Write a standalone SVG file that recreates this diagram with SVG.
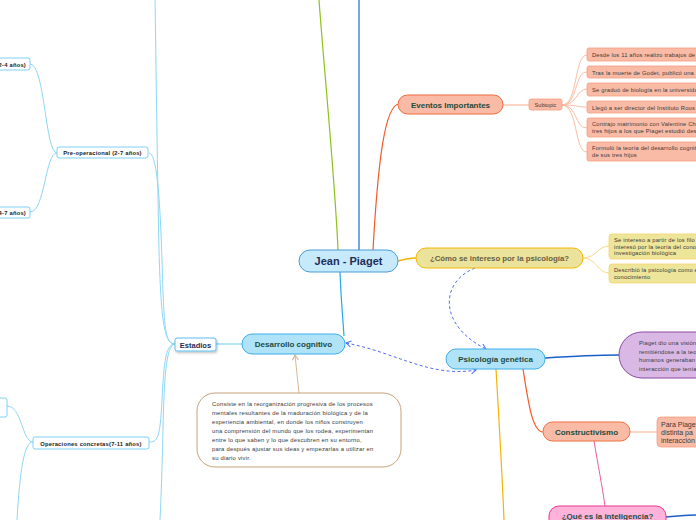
<svg xmlns="http://www.w3.org/2000/svg" width="696" height="520" viewBox="0 0 696 520">
<defs>
<marker id="arrBlue" markerWidth="8" markerHeight="8" refX="6" refY="4" orient="auto" markerUnits="userSpaceOnUse">
<path d="M1,1 L6,4 L1,7" fill="none" stroke="#4f6ff0" stroke-width="1"/>
</marker>
<marker id="arrBlueStart" markerWidth="8" markerHeight="8" refX="2" refY="4" orient="auto" markerUnits="userSpaceOnUse">
<path d="M7,1 L2,4 L7,7" fill="none" stroke="#4f6ff0" stroke-width="1"/>
</marker>
<marker id="arrTan" markerWidth="8" markerHeight="8" refX="6" refY="4" orient="auto" markerUnits="userSpaceOnUse">
<path d="M1,1 L6,4 L1,7" fill="none" stroke="#d2b08c" stroke-width="1"/>
</marker>
<filter id="sh" x="-20%" y="-30%" width="140%" height="170%">
<feDropShadow dx="1" dy="1.5" stdDeviation="1" flood-color="#000" flood-opacity="0.25"/>
</filter>
</defs>
<style>
text{font-family:"Liberation Sans",Arial,sans-serif}
.b{font-weight:bold}
.lb{fill:none;stroke:#8ed6f5;stroke-width:1}
.sal{fill:none;stroke:#fbbca4;stroke-width:1}
.gold{fill:none;stroke:#f9d98a;stroke-width:1}
.sm{font-size:5.8px;fill:#3a3a3a;letter-spacing:0.18px}
.sb{font-size:5.8px;font-weight:bold;fill:#222;letter-spacing:0.22px}
.note{font-size:5.9px;fill:#3a3a3a;letter-spacing:0.2px}
.green{fill:#1e4a3c}
.navy{fill:#1d2d5a}
.wb{fill:#fff;stroke:#7fd0f4;stroke-width:1}
.salbox{fill:#f9bba6;stroke:#f4a080;stroke-width:0.8}
.goldbox{fill:#ede59a;stroke:#f7d46a;stroke-width:0.8}
</style>
<rect width="696" height="520" fill="#fff"/>
<g id="connectors">
<path d="M338,250 C335,180 325,80 319,0" fill="none" stroke="#8cc21a" stroke-width="1.2"/>
<path d="M359,250 L359,0" fill="none" stroke="#1f66d0" stroke-width="1.2"/>
<path d="M373,250 C378,160 385,105 399,104" fill="none" stroke="#f25a28" stroke-width="1.2"/>
<path d="M398,261 C405,259 410,258 416,258" fill="none" stroke="#f5b400" stroke-width="1.5"/>
<path d="M340,272 C341,300 343,320 344,336" fill="none" stroke="#22a8ee" stroke-width="1.2"/>
<path d="M503,105 L529,105" fill="none" stroke="#fbc4b0" stroke-width="1.5"/>
<path d="M562,105 C578,105 574,55 587,55" class="sal"/>
<path d="M562,105 C578,105 574,72 587,72" class="sal"/>
<path d="M562,105 C578,105 576,89 587,89" class="sal"/>
<path d="M562,105 C578,105 576,107 587,107" class="sal"/>
<path d="M562,105 C578,105 574,128 587,128" class="sal"/>
<path d="M562,105 C578,105 574,152 587,152" class="sal"/>
<path d="M583,258 C596,258 598,246 609,246" class="gold"/>
<path d="M583,258 C596,258 598,273 609,273" class="gold"/>
<path d="M475,268 C440,282 438,325 486,349" fill="none" stroke="#4f6ff0" stroke-width="1" stroke-dasharray="3,2.5" marker-end="url(#arrBlue)"/>
<path d="M346,343 C395,352 430,378 476,370" fill="none" stroke="#4f6ff0" stroke-width="1" stroke-dasharray="3,2.5" marker-start="url(#arrBlueStart)" marker-end="url(#arrBlue)"/>
<path d="M242,344 L216,344" fill="none" stroke="#9dd8f0" stroke-width="1.5"/>
<path d="M299,393 C298,380 296,368 295,355" fill="none" stroke="#d9b896" stroke-width="1" marker-end="url(#arrTan)"/>
<path d="M545,358 C575,356 590,355 619,355" fill="none" stroke="#1a60c8" stroke-width="1.5"/>
<path d="M523,369 C528,400 532,432 543,432" fill="none" stroke="#f25a28" stroke-width="1.2"/>
<path d="M630,432 L657,432" fill="none" stroke="#fbc8b4" stroke-width="1.5"/>
<path d="M594,441 C598,465 602,485 605,506" fill="none" stroke="#ea5c9c" stroke-width="1"/>
<path d="M666,517 C680,516 688,515 696,515" fill="none" stroke="#1a60c8" stroke-width="1.5"/>
<path d="M496,369 C499,420 502,470 504,520" fill="none" stroke="#f5b400" stroke-width="1.2"/>
<path d="M175,344 C164,344 161,320 159,250 C157,150 156,60 155,0" class="lb"/>
<path d="M149,153 C157,153 160,200 162,260 C164,330 165,344 175,344" class="lb"/>
<path d="M175,344 C166,344 164,360 162,400 C160,440 157,442 149,442" class="lb"/>
<path d="M175,344 C166,344 164,380 163,430 C162,470 161,500 160,520" class="lb"/>
<path d="M57,153 C45,153 45,64 30,64" class="lb"/>
<path d="M57,153 C45,153 45,212 30,212" class="lb"/>
<path d="M33,442 C22,442 22,406 7,406" class="lb"/>
<path d="M33,442 C24,442 20,470 17,520" class="lb"/>
</g>
<g id="jean">
<rect x="299" y="250" width="99" height="22" rx="11" fill="#c6eafb" stroke="#4a9bd8" stroke-width="1"/>
<text x="348.5" y="265" text-anchor="middle" class="b navy" font-size="11">Jean - Piaget</text>
</g>
<g id="eventos">
<rect x="398" y="95" width="105" height="19" rx="9.5" fill="#f9bba6" stroke="#f06a3c" stroke-width="1"/>
<text x="450.5" y="108" text-anchor="middle" class="b green" font-size="8">Eventos Importantes</text>
</g>
<g id="subtopic">
<rect x="529" y="99" width="33" height="11" rx="2" class="salbox"/>
<text x="545.5" y="107" text-anchor="middle" font-size="5.6" fill="#4a3a34">Subtopic</text>
</g>
<g id="ev1"><rect x="587" y="48" width="120" height="13" rx="2" class="salbox"/><text x="592" y="57" class="sm">Desde los 11 años realizo trabajos de</text></g>
<g id="ev2"><rect x="587" y="66" width="120" height="12" rx="2" class="salbox"/><text x="592" y="74.5" class="sm">Tras la muerte de Godet, publicó una</text></g>
<g id="ev3"><rect x="587" y="83" width="120" height="13" rx="2" class="salbox"/><text x="592" y="91.5" class="sm">Se graduó de biología en la universida</text></g>
<g id="ev4"><rect x="587" y="101" width="120" height="12" rx="2" class="salbox"/><text x="592" y="109.5" class="sm">Llegó a ser director del Instituto Rous</text></g>
<g id="ev5"><rect x="587" y="118" width="120" height="19" rx="2" class="salbox"/><text x="592" y="126" class="sm">Contrajo matrimonio con Valentine Ch</text><text x="592" y="132.5" class="sm">tres hijos a los que Piaget estudió des</text></g>
<g id="ev6"><rect x="587" y="142" width="120" height="19" rx="2" class="salbox"/><text x="592" y="150" class="sm">Formuló la teoría del desarrollo cognit</text><text x="592" y="156.5" class="sm">de sus tres hijos</text></g>
<g id="como">
<rect x="416" y="248" width="167" height="20" rx="10" fill="#ebe39b" stroke="#f5b800" stroke-width="1"/>
<text x="499.5" y="261" text-anchor="middle" class="b" font-size="7.8" fill="#676042">¿Cómo se intereso por la psicología?</text>
</g>
<g id="como1"><rect x="609" y="234" width="100" height="25" rx="3" class="goldbox"/><text x="614" y="242" class="sm">Se intereso a partir de los filo</text><text x="614" y="248.5" class="sm">interesó por la teoría del cono</text><text x="614" y="255" class="sm">investigación biológica</text></g>
<g id="como2"><rect x="609" y="264" width="100" height="19" rx="3" class="goldbox"/><text x="614" y="272" class="sm">Describió la psicología como e</text><text x="614" y="278.5" class="sm">conocimiento</text></g>
<g id="psicologia">
<rect x="446" y="349" width="99" height="20" rx="10" fill="#b0e2f8" stroke="#3cb0e8" stroke-width="1"/>
<text x="495.5" y="362" text-anchor="middle" class="b green" font-size="8">Psicología genética</text>
</g>
<g id="purple">
<rect x="619" y="332" width="110" height="46" rx="23" fill="#d9b8e5" stroke="#8a4aa0" stroke-width="1"/>
<text x="639" y="345" class="sm">Piaget dio una visión</text>
<text x="639" y="353.5" class="sm">remitiéndose a la teo</text>
<text x="639" y="362" class="sm">humanos generaban</text>
<text x="639" y="370.5" class="sm">interacción que tenía</text>
</g>
<g id="constructivismo">
<rect x="543" y="422" width="87" height="19" rx="9.5" fill="#f9bba6" stroke="#f07040" stroke-width="1"/>
<text x="586.5" y="434.5" text-anchor="middle" class="b green" font-size="8">Constructivismo</text>
</g>
<g id="para">
<rect x="657" y="417" width="60" height="30" rx="4" class="salbox"/>
<text x="661" y="427" font-size="7" fill="#3a3a3a">Para Piaget</text>
<text x="661" y="435" font-size="7" fill="#3a3a3a">distinta pa</text>
<text x="661" y="443" font-size="7" fill="#3a3a3a">interacción</text>
</g>
<g id="inteligencia">
<rect x="549" y="506" width="117" height="24" rx="10" fill="#ffb3da" stroke="#e83a8c" stroke-width="1"/>
<text x="607.5" y="518.5" text-anchor="middle" class="b green" font-size="8">¿Qué es la inteligencia?</text>
</g>
<g id="desarrollo">
<rect x="242" y="334" width="103" height="20" rx="10" fill="#b0e2f8" stroke="#3ab0e8" stroke-width="1"/>
<text x="293.5" y="347" text-anchor="middle" class="b green" font-size="8">Desarrollo cognitivo</text>
</g>
<g id="estadios">
<rect x="175" y="338" width="41" height="13" rx="2" fill="#fff" stroke="#5bc0f0" stroke-width="1" filter="url(#sh)"/>
<text x="195.5" y="347.5" text-anchor="middle" class="b navy" font-size="7.5">Estadios</text>
</g>
<g id="nota">
<rect x="197" y="393" width="204" height="74" rx="18" fill="#fff" stroke="#c8a27a" stroke-width="1"/>
<text x="212" y="406" class="note">Consiste en la reorganización progresiva de los procesos</text>
<text x="212" y="415" class="note">mentales resultantes de la maduración biológica y de la</text>
<text x="212" y="424" class="note">experiencia ambiental, en donde los niños construyen</text>
<text x="212" y="433" class="note">una comprensión del mundo que los rodea, experimentan</text>
<text x="212" y="442" class="note">entre lo que saben y lo que descubren en su entorno,</text>
<text x="212" y="451" class="note">para después ajustar sus ideas y empezarlas a utilizar en</text>
<text x="212" y="460" class="note">su diario vivir.</text>
</g>
<g id="preoperacional">
<rect x="57" y="147" width="91" height="11" rx="2" class="wb"/>
<text x="102.5" y="155" text-anchor="middle" class="sb">Pre-operacional (2-7 años)</text>
</g>
<g id="pre1">
<rect x="-40" y="58" width="70" height="12" rx="2" class="wb"/>
<text x="26" y="66.5" text-anchor="end" class="sb">2-4 años)</text>
</g>
<g id="pre2">
<rect x="-40" y="207" width="70" height="11" rx="2" class="wb"/>
<text x="26" y="215" text-anchor="end" class="sb">4-7 años)</text>
</g>
<g id="operaciones">
<rect x="33" y="437" width="116" height="12" rx="2" class="wb"/>
<text x="91" y="445.5" text-anchor="middle" class="sb">Operaciones concretas(7-11 años)</text>
</g>
<g id="op1">
<rect x="-40" y="398" width="47" height="19" rx="2" class="wb"/>
</g>
</svg>
